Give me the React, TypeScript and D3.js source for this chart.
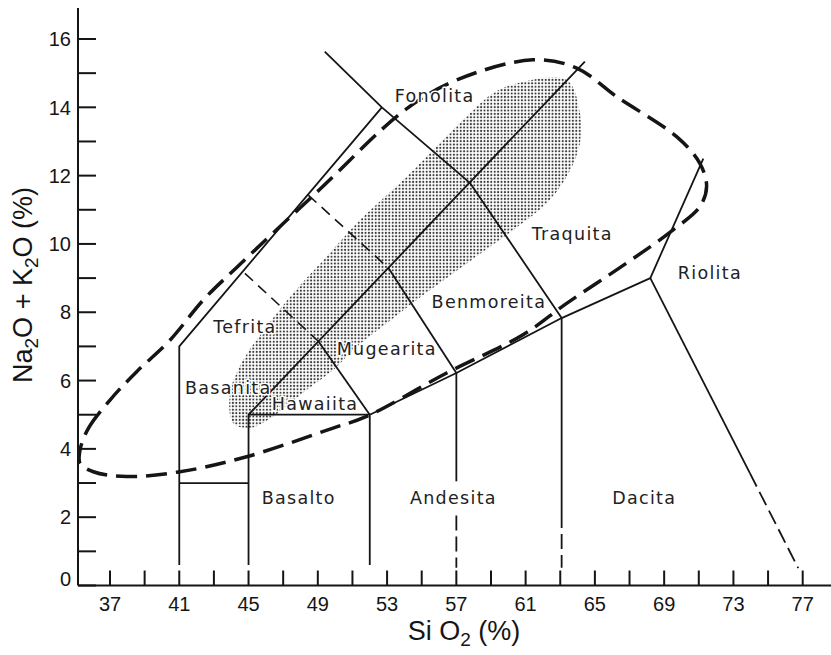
import React from 'react';
import * as d3 from 'd3';

// SiO2 axis ticks and labels
const siTicks = [37, 39, 41, 43, 45, 47, 49, 51, 53, 55, 57, 59, 61, 63, 65, 67, 69, 71, 73, 75, 77];
const siLabels = [37, 41, 45, 49, 53, 57, 61, 65, 69, 73, 77];
// Na2O + K2O axis ticks and labels
const alkTicks = [0, 1, 2, 3, 4, 5, 6, 7, 8, 9, 10, 11, 12, 13, 14, 15, 16];
const alkLabels = [0, 2, 4, 6, 8, 10, 12, 14, 16];

// field boundaries [SiO2, Na2O+K2O]
const solidLines = [
  [[41, 0.6], [41, 7], [52.7, 14]],
  [[49.4, 15.63], [52.7, 14], [57.8, 11.78], [63.08, 7.83]],
  [[45, 0.6], [45, 5], [64.42, 15.34]],
  [[41, 3], [45, 3]],
  [[45, 5], [52, 5]],
  [[52, 0.6], [52, 5], [57, 6.22], [63.08, 7.83], [68.2, 9.0], [71.26, 12.5]],
  [[49.03, 7.15], [52, 5]],
  [[53.07, 9.3], [57, 6.22]],
  [[57, 6.22], [57, 3.05]],
  [[63.08, 7.83], [63.08, 2.12]],
  [[68.2, 9.0], [73.95, 3.29]],
];
const dashedLines = [
  [[44.79, 9.14], [49.03, 7.15]],
  [[48.45, 11.43], [53.07, 9.3]],
];
const brokenLines = [
  [[57, 2.05], [57, 0.52]],
  [[63.08, 2.12], [63.08, 0.52]],
  [[73.95, 3.29], [76.74, 0.51]],
];

// heavy dashed envelope
const envelope = [
  [35.27, 3.97], [35.75, 4.6], [37.0, 5.43], [38.54, 6.26], [40.46, 7.18],
  [42.37, 8.35], [44.33, 9.32], [49.12, 11.6], [54.03, 13.92], [57.02, 14.8],
  [61.42, 15.39], [63.95, 15.15], [66.26, 14.31], [69.72, 13.14], [71.06, 12.36],
  [71.45, 11.68], [71.06, 11.09], [69.52, 10.41], [66.83, 9.44], [63.37, 8.26],
  [60.85, 7.34], [56.44, 6.22], [51.82, 4.95], [49.88, 4.61], [44.89, 3.77],
  [41.04, 3.33], [37.96, 3.19], [36.04, 3.33], [35.27, 3.58],
];

// stippled field
const stipple = [
  [63.37, 14.8], [64.14, 13.83], [64.14, 12.95], [63.37, 11.97], [62.21, 11.19],
  [60.29, 10.41], [58.94, 9.92], [56.82, 9.14], [54.71, 8.36], [52.98, 7.68],
  [51.24, 6.99], [49.89, 6.31], [48.36, 5.73], [46.41, 4.95], [45.08, 4.61],
  [44.12, 4.75], [43.93, 5.63], [44.7, 6.61], [46.05, 7.58], [47.58, 8.56],
  [49.51, 9.63], [51.43, 10.7], [53.74, 11.78], [55.67, 12.76], [57.59, 13.73],
  [59.13, 14.41], [60.48, 14.7],
];

const rockNames = ['Fonolita', 'Traquita', 'Riolita', 'Benmoreita', 'Tefrita', 'Mugearita', 'Basanita', 'Hawaiita', 'Basalto', 'Andesita', 'Dacita'];
const rockSi = [53.45, 61.35, 69.79, 55.57, 42.96, 50.09, 41.33, 46.34, 45.76, 54.32, 66.0];
const rockAlk = [14.16, 10.12, 8.98, 8.12, 7.4, 6.75, 5.61, 5.14, 2.38, 2.38, 2.38];

const W = 831;
const H = 655;

const App = () => {
  const x = d3.scaleLinear().domain([37, 77]).range([110, 802.7]);
  const y = d3.scaleLinear().domain([0, 16]).range([585.5, 39]);
  const x0 = x.invert(78);
  const x1 = x.invert(831);
  const yTop = y.invert(8);

  const line = d3.line().x(d => x(d[0])).y(d => y(d[1]));
  const closed = d3.line().x(d => x(d[0])).y(d => y(d[1])).curve(d3.curveCatmullRomClosed.alpha(0.5));

  const ink = '#151515';
  const tickFont = "'Liberation Sans', Arial, sans-serif";
  const labelFont = "'DejaVu Sans', sans-serif";

  return (
    <svg width={W} height={H} style={{ position: 'absolute', left: 0, top: 0, background: '#fff' }}>
      <defs>
        <pattern id="dots" width="3.4" height="3.4" patternUnits="userSpaceOnUse">
          <circle cx="1.7" cy="1.7" r="1.05" fill="#3a3a3a" />
        </pattern>
      </defs>

      <path d={closed(stipple)} fill="url(#dots)" stroke="none" />

      {solidLines.map((l, i) => (
        <path key={'s' + i} d={line(l)} fill="none" stroke={ink} strokeWidth={1.8} strokeLinejoin="round" />
      ))}
      {dashedLines.map((l, i) => (
        <path key={'d' + i} d={line(l)} fill="none" stroke={ink} strokeWidth={1.6} strokeDasharray="11,7" />
      ))}
      {brokenLines.map((l, i) => (
        <path key={'b' + i} d={line(l)} fill="none" stroke={ink} strokeWidth={1.8} strokeDasharray="15,6" />
      ))}

      <path d={closed(envelope)} fill="none" stroke={ink} strokeWidth={3.5} strokeDasharray="21,9" />

      {/* axes */}
      <line x1={x(x0)} x2={x(x1)} y1={y(0)} y2={y(0)} stroke={ink} strokeWidth={2} />
      <line x1={x(x0)} x2={x(x0)} y1={y(0)} y2={y(yTop)} stroke={ink} strokeWidth={2} />
      {siTicks.map(t => (
        <line key={'xt' + t} x1={x(t)} x2={x(t)} y1={y(0)} y2={y(0) - 15} stroke={ink} strokeWidth={2} />
      ))}
      {alkTicks.map(t => (
        <line key={'yt' + t} x1={x(x0)} x2={x(x0) + 18} y1={y(t)} y2={y(t)} stroke={ink} strokeWidth={2} />
      ))}
      {siLabels.map(t => (
        <text key={'xl' + t} x={x(t)} y={611} textAnchor="middle" fontFamily={tickFont} fontSize={20} fill={ink}>{t}</text>
      ))}
      {alkLabels.map(t => (
        <text key={'yl' + t} x={71} y={y(t) - (t === 0 ? 7 : 0)} dy="0.36em" textAnchor="end" fontFamily={tickFont} fontSize={20} fill={ink}>{t}</text>
      ))}

      <text x={464} y={640} textAnchor="middle" fontFamily={tickFont} fontSize={27} fill={ink}>
        Si O<tspan fontSize={19} dy={6}>2</tspan><tspan dy={-6}> (%)</tspan>
      </text>
      <text transform="translate(32,285) rotate(-90)" textAnchor="middle" fontFamily={tickFont} fontSize={27} fill={ink}>
        Na<tspan fontSize={19} dy={6}>2</tspan><tspan dy={-6}>O + K</tspan><tspan fontSize={19} dy={6}>2</tspan><tspan dy={-6}>O (%)</tspan>
      </text>

      {rockNames.map((n, i) => (
        <text key={n} x={x(rockSi[i])} y={y(rockAlk[i])} fontFamily={labelFont} fontSize={17.5} letterSpacing={1.3}
          fill="#222" stroke="#fff" strokeWidth={3} paintOrder="stroke" strokeLinejoin="round">{n}</text>
      ))}
    </svg>
  );
};

export default App;
